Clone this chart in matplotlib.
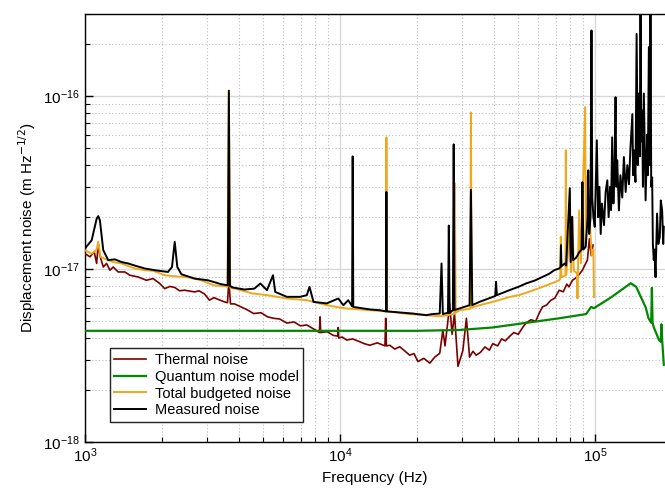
import matplotlib
matplotlib.use("Agg")
import matplotlib.pyplot as plt
from matplotlib.ticker import NullFormatter, FixedLocator
import numpy as np

plt.rcParams["font.family"] = ["Liberation Sans", "DejaVu Sans"]

# amplitudes in units of 1e-18 m Hz^-1/2, frequencies in Hz
thermal_f = [1000, 1046, 1087, 1111, 1127, 1144, 1179, 1215, 1252, 1290, 1349, 1433,
             1499, 1615, 1741, 1849, 1963, 2054, 2150, 2248, 2350, 2459, 2690, 2800,
             2942, 3076, 3200, 3318, 3523, 3620, 3665, 3720, 3855, 4093, 4300, 4583,
             4900, 5200, 5492, 5800, 6186, 6600, 7000, 7406, 7800, 8300, 8350, 8400,
             8900, 9410, 9800, 9840, 9880, 10200, 10620, 11200, 11970, 12500, 13090,
             14000, 15000, 15100, 15200, 15670, 16400, 17140, 18000, 18750, 19500,
             20200, 21300, 22500, 23500, 24600, 25300, 25800, 26500, 26900, 27500,
             28100, 29000, 30300, 31300, 32200, 33200, 34200, 35500, 37000, 38500,
             39700, 41500, 43000, 44500, 46100, 48000, 50000, 52000, 53600, 56000,
             58500, 60500, 62200, 64500, 67000, 69500, 72300, 75000, 77500, 79000,
             81500, 84000, 86500, 89200, 91000, 93300, 95000, 96500, 98200]
thermal_a = [12.3, 11.8, 12.6, 10.8, 14.1, 12.0, 10.3, 10.8, 9.87, 10.3, 9.64, 9.64,
             9.23, 9.02, 8.63, 8.83, 8.27, 7.72, 7.95, 7.84, 7.5, 7.56, 7.39, 7.5,
             7.19, 6.62, 6.85, 6.7, 6.47, 6.4, 8.6, 6.3, 6.3, 6.05, 5.85, 5.54,
             5.6, 5.3, 5.2, 5.15, 4.88, 4.95, 4.7, 4.76, 4.55, 4.3, 5.3, 4.3,
             4.35, 4.14, 4.1, 4.6, 4.0, 4.05, 3.89, 3.95, 3.8, 3.7, 3.63,
             3.75, 3.6, 5.2, 3.6, 3.63, 3.45, 3.56, 3.35, 3.18, 3.25,
             2.92, 3.05, 2.86, 3.1, 3.26, 4.44, 3.6, 5.07, 6.3, 4.2,
             5.54, 2.74, 3.38, 5.2, 3.1, 3.35, 3.18, 3.3, 3.55, 3.4,
             3.71, 3.6, 3.95, 3.85, 4.07, 4.3, 4.2, 4.6, 4.88, 5.1,
             5.0, 5.6, 6.05, 6.2, 6.6, 6.8, 7.56, 7.4, 8.2, 7.9,
             8.63, 8.9, 9.3, 9.87, 10.5, 11.3, 15.0, 12.0, 13.8]

quantum_f = [1000, 20000, 29400, 39600, 56800, 72300, 92200, 96500, 99000, 116000,
             138000, 145000, 158000, 162000, 166000, 167000, 168000, 170000, 178000,
             181000, 182000, 183000, 186000]
quantum_a = [4.4, 4.4, 4.45, 4.6, 4.95, 5.2, 5.5, 6.05, 5.95, 6.9,
             8.3, 7.9, 6.0, 5.2, 4.9, 7.8, 4.9, 4.6, 3.9,
             3.8, 4.8, 4.0, 2.8]

total_f = [1000, 1062, 1111, 1127, 1150, 1192, 1290, 1391, 1567, 1715, 1849, 2054,
           2248, 2540, 2850, 3200, 3560, 3620, 3665, 3710, 3880, 4530, 5170, 6190,
           7410, 8870, 10500, 12000, 14330, 15150, 15200, 15250, 16150, 18500, 21800,
           24600, 28000, 28200, 28400, 29400, 32400, 32600, 32800, 35200, 38500,
           42000, 46000, 50300, 55000, 59600, 65000, 72300, 73000, 73400, 73800,
           76500, 76800, 77100, 79800, 80500, 81500, 82500, 84900, 85300, 85700,
           86600, 88000, 91400, 92000, 93000, 94800, 97000, 98500, 99000]
total_a = [12.9, 12.3, 13.0, 14.4, 11.8, 11.5, 11.0, 10.8, 10.1, 9.87, 9.8, 9.23,
           9.1, 8.98, 8.63, 8.07, 7.97, 7.9, 108, 7.8, 7.72, 7.24, 7.08, 6.77,
           6.62, 6.19, 5.93, 5.85, 5.73, 5.7, 57.9, 5.7, 5.66, 5.5, 5.42,
           5.34, 5.5, 31.4, 5.6, 5.79, 5.9, 80.8, 6.0, 6.19, 6.4,
           6.62, 6.9, 7.08, 7.4, 7.72, 8.1, 8.63, 8.8, 15.4, 9.0,
           9.2, 48.8, 9.3, 17.6, 9.6, 20.1, 9.8, 9.5, 6.77, 10.0,
           21.9, 10.8, 86.7, 14.0, 34.2, 21.9, 12.0, 13.0, 6.9]

measured_f = [1000, 1062, 1111, 1127, 1144, 1179, 1233, 1310, 1391, 1476, 1567, 1715,
              1877, 2115, 2193, 2248, 2301, 2388, 2690, 3033, 3420, 3630, 3665, 3700,
              3797, 4217, 4613, 4870, 5170, 5460, 5570, 6190, 6980, 7410, 7590, 7870,
              8870, 9840, 10300, 10770, 11150, 11210, 11270, 11620, 13100, 14330,
              15150, 15200, 15250, 16150, 17500, 19300, 21800, 23000, 24600, 25000,
              25300, 26500, 26700, 26900, 27700, 27900, 28100, 29400, 32200, 32600,
              33000, 35200, 38000, 40600, 40900, 41200, 46100, 50000, 53600, 58000,
              62200, 66000, 69200, 72300, 73200, 73500, 73800, 76000, 77000, 79600,
              80200, 81300, 82000, 84000, 85300, 86500, 88500, 89200, 90000, 91900,
              93500, 94000, 94800, 96000, 96800, 97500, 98500, 99700,
              101600, 102800, 104000, 105200, 106400, 108400, 110000, 111700, 113000,
              114500, 115500, 116700, 118000, 119300, 120300, 121200, 122100, 124000,
              125700, 127800, 129700, 131800, 133800, 135800, 137600, 140000, 141000,
              142000, 144000, 145500, 147000, 148600, 149700, 150700, 151800, 153000,
              154000, 155300, 157800, 160000, 161000, 162500, 164000, 164900, 166000,
              167400, 168500, 169900, 171000, 172600, 174000, 175000, 177000, 179400,
              181000, 183200, 185000, 186000]
measured_a = [13.2, 14.7, 19.6, 20.3, 19.2, 12.9, 11.3, 11.4, 11.0, 10.8, 10.5, 10.1,
              9.87, 9.64, 10.3, 14.4, 10.3, 9.35, 8.83, 8.63, 8.19, 8.07, 108, 8.0,
              7.84, 7.63, 7.72, 8.27, 7.56, 9.23, 7.39, 6.92, 6.92, 7.08, 7.91, 6.47,
              6.34, 6.77, 6.19, 6.62, 6.1, 45.0, 6.05, 6.01, 5.85, 5.79,
              5.7, 28.0, 5.7, 5.66, 5.6, 5.54, 5.42, 5.5, 5.54, 10.8,
              5.5, 5.6, 17.9, 5.6, 5.79, 52.8, 5.8, 5.93, 6.19, 28.8,
              6.2, 6.47, 6.75, 7.0, 8.45, 7.08, 7.56, 7.9, 8.27, 8.6,
              9.02, 9.4, 9.87, 10.1, 10.3, 13.8, 10.4, 10.8, 10.5, 29.4,
              11.0, 20.1, 11.3, 11.6, 12.0, 12.5, 13.0, 31.9, 13.0, 13.5,
              20.0, 37.4, 16.0, 20.0, 241, 26.0, 20.0, 17.6,
              55.7, 20.0, 30.0, 16.0, 24.0, 18.0, 28.0, 32.7, 20.0,
              30.0, 22.0, 58.0, 24.0, 40.0, 99.0, 30.0, 42.7, 21.9,
              35.0, 26.0, 44.6, 28.0, 40.0, 31.0, 50.0, 79.0, 35.0,
              48.8, 32.0, 230, 40.0, 104, 45.0, 400, 55.0, 83.0,
              30.0, 104, 25.0, 60.0, 35.0, 193, 40.0, 400, 30.0,
              34.0, 14.0, 11.3, 13.0, 9.0, 15.0, 21.0, 14.0, 15.4,
              25.0, 21.9, 14.0, 17.6]

fig = plt.figure(figsize=(6.65, 4.93), dpi=100)
ax = fig.add_axes([85 / 665, 51 / 493, 580 / 665, 428 / 493])

scale = 1e-18
ax.loglog(thermal_f, np.array(thermal_a) * scale, color="#7b0000", lw=1.2,
          label="Thermal noise", zorder=3)
ax.loglog(quantum_f, np.array(quantum_a) * scale, color="#008800", lw=1.6,
          label="Quantum noise model", zorder=3)
ax.loglog(total_f, np.array(total_a) * scale, color="#f0a818", lw=1.4,
          label="Total budgeted noise", zorder=4)
ax.loglog(measured_f, np.array(measured_a) * scale, color="black", lw=1.4,
          label="Measured noise", zorder=5)

ax.set_xlim(1e3, 1.88e5)
ax.set_ylim(1e-18, 3e-16)
ax.xaxis.set_major_locator(FixedLocator([1e3, 1e4, 1e5]))
ax.yaxis.set_major_locator(FixedLocator([1e-18, 1e-17, 1e-16]))

ax.grid(True, which="major", color="#d8d8d8", lw=1.0, ls="-", zorder=0)
ax.grid(True, which="minor", color="#bdbdbd", lw=0.8, ls=(0, (1, 2)), zorder=0)
ax.set_axisbelow(True)

ax.xaxis.set_minor_formatter(NullFormatter())
ax.yaxis.set_minor_formatter(NullFormatter())
ax.tick_params(which="both", direction="in", labelsize=11, colors="black")
ax.tick_params(which="major", length=6, width=1)
ax.tick_params(which="minor", length=3.5, width=0.8)
ax.spines["right"].set_visible(False)
for s in ["left", "bottom", "top"]:
    ax.spines[s].set_linewidth(1.0)

ax.set_xlabel("Frequency (Hz)", fontsize=11)
ax.set_ylabel("Displacement noise (m Hz$^{-1/2}$)", fontsize=11)

leg = ax.legend(loc="lower left", bbox_to_anchor=(0.03, 0.03), fontsize=10.5,
                frameon=True, fancybox=False, framealpha=1, edgecolor="#222222",
                handlelength=2.2, borderpad=0.3, labelspacing=0.2, handletextpad=0.6)
leg.get_frame().set_linewidth(1.0)

fig.savefig("out.png", dpi=100)
